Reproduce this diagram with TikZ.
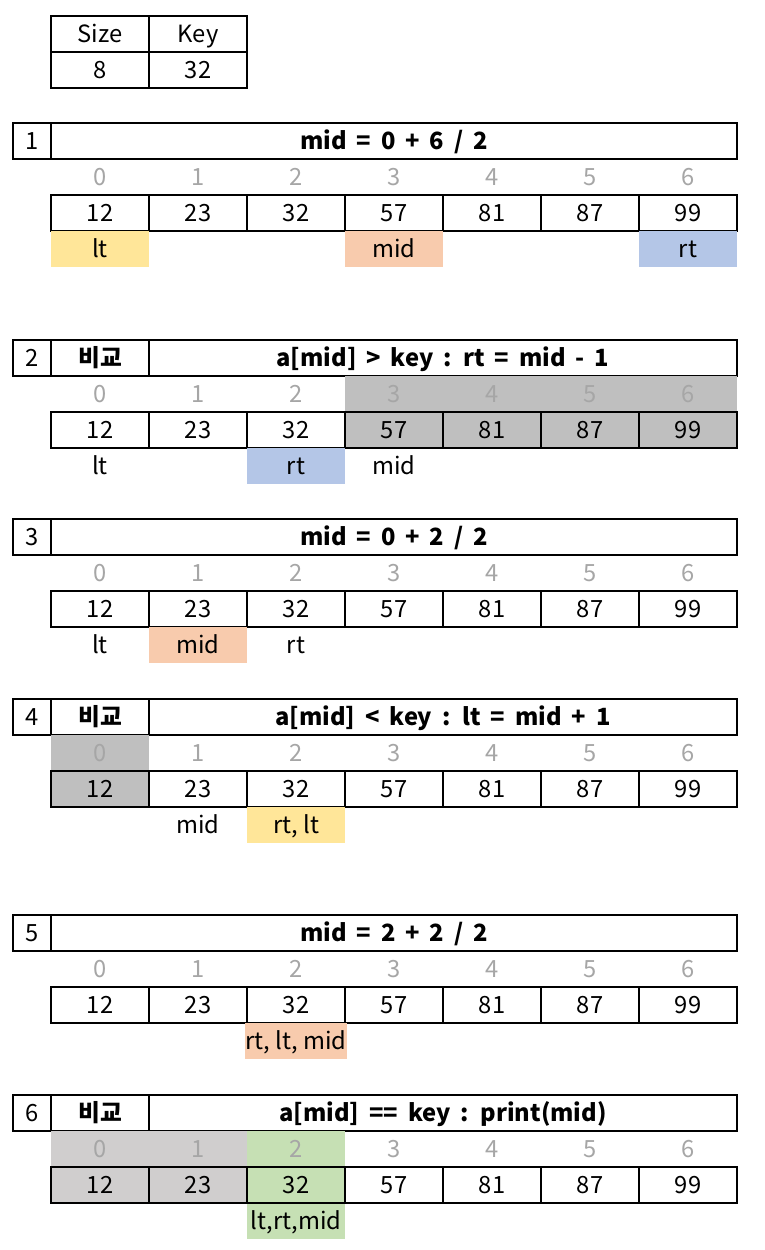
\documentclass[tikz,border=0pt]{standalone}
\usepackage{fontspec}
\setmainfont{Noto Sans CJK KR}
\usepackage{tikz}
\definecolor{ltyellow}{HTML}{FFE699}
\definecolor{midorange}{HTML}{F8CBAD}
\definecolor{rtblue}{HTML}{B4C6E7}
\definecolor{donegray}{HTML}{BFBFBF}
\definecolor{lightgray}{HTML}{D0CECE}
\definecolor{foundgreen}{HTML}{C6E0B4}
\definecolor{idxgray}{HTML}{A6A6A6}
\newcommand{\cellfont}{\fontsize{13.5}{16}\selectfont}
\newcommand{\headfont}{\cellfont\bfseries\spaceskip 0.42em plus 0.1em\relax}
% one row of indices and one row of values, #1 = name, #2 = top of the step
\newcommand{\drawarray}[2]{
  \foreach \v [count=\i from 0] in {12,23,32,57,81,87,99}{
    \node[index] (#1-i\i) at ({100+98*\i},{#2+54}) {\i};
    \node[cell] (#1-c\i) at ({100+98*\i},{#2+90}) {\v};
  }
}
\tikzset{
  line/.style={text height=10.8pt,text depth=1.2pt},
  cell/.style={line,draw,line width=1.1pt,minimum width=1.96cm,minimum height=0.72cm,inner sep=0pt},
  index/.style={line,text=idxgray,inner sep=0pt},
  tag/.style={line,minimum width=1.96cm,minimum height=0.72cm,inner sep=0pt},
  headbox/.style={line,draw,line width=1.1pt,minimum height=0.72cm,inner sep=0pt},
  headtext/.style={headbox,font=\headfont}
}
\begin{document}
\begin{tikzpicture}[x=0.02cm,y=-0.02cm,font=\cellfont]
  \useasboundingbox (0,0) rectangle (764,1250);

  % size and key
  \node[cell] (size) at (100,34) {Size};
  \node[cell] (key) at (198,34) {Key};
  \node[cell] (sizeval) at (100,70) {8};
  \node[cell] (keyval) at (198,70) {32};

  % step 1
  \node[headbox,minimum width=0.76cm] (s1-no) at (32,141) {1};
  \node[headtext,minimum width=13.72cm] (s1-head) at (394,141) {mid = 0 + 6 / 2};
  \drawarray{s1}{123}
  \node[tag,fill=ltyellow] (s1-lt) at (100,249) {lt};
  \node[tag,fill=midorange] (s1-mid) at (394,249) {mid};
  \node[tag,fill=rtblue] (s1-rt) at (688,249) {rt};

  % step 2
  \node[headbox,minimum width=0.76cm] (s2-no) at (32,358) {2};
  \node[headtext,minimum width=1.96cm] (s2-cmp) at (100,358) {비교};
  \node[headtext,minimum width=11.76cm] (s2-head) at (443,358) {a[mid] > key : rt = mid - 1};
  \fill[donegray] (345,376) rectangle (737,448);
  \drawarray{s2}{340}
  \node[tag] (s2-lt) at (100,466) {lt};
  \node[tag,fill=rtblue] (s2-rt) at (296,466) {rt};
  \node[tag] (s2-mid) at (394,466) {mid};

  % step 3
  \node[headbox,minimum width=0.76cm] (s3-no) at (32,537) {3};
  \node[headtext,minimum width=13.72cm] (s3-head) at (394,537) {mid = 0 + 2 / 2};
  \drawarray{s3}{519}
  \node[tag] (s3-lt) at (100,645) {lt};
  \node[tag,fill=midorange] (s3-mid) at (198,645) {mid};
  \node[tag] (s3-rt) at (296,645) {rt};

  % step 4
  \node[headbox,minimum width=0.76cm] (s4-no) at (32,717) {4};
  \node[headtext,minimum width=1.96cm] (s4-cmp) at (100,717) {비교};
  \node[headtext,minimum width=11.76cm] (s4-head) at (443,717) {a[mid] < key : lt = mid + 1};
  \fill[donegray] (51,735) rectangle (149,807);
  \drawarray{s4}{699}
  \node[tag] (s4-mid) at (198,825) {mid};
  \node[tag,fill=ltyellow] (s4-rtlt) at (296,825) {rt, lt};

  % step 5
  \node[headbox,minimum width=0.76cm] (s5-no) at (32,933) {5};
  \node[headtext,minimum width=13.72cm] (s5-head) at (394,933) {mid = 2 + 2 / 2};
  \drawarray{s5}{915}
  \node[tag,fill=midorange] (s5-all) at (296,1041) {rt, lt, mid};

  % step 6
  \node[headbox,minimum width=0.76cm] (s6-no) at (32,1113) {6};
  \node[headtext,minimum width=1.96cm] (s6-cmp) at (100,1113) {비교};
  \node[headtext,minimum width=11.76cm] (s6-head) at (443,1113) {a[mid] == key : print(mid)};
  \fill[lightgray] (51,1131) rectangle (247,1203);
  \fill[foundgreen] (247,1131) rectangle (345,1239);
  \drawarray{s6}{1095}
  \node[tag] (s6-all) at (296,1221) {lt,rt,mid};
\end{tikzpicture}
\end{document}
